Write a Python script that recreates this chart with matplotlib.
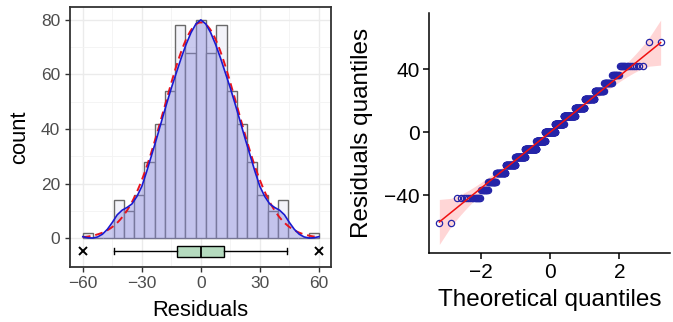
#!/usr/bin/env python3
"""Residual diagnostics: histogram with density + boxplot, and normal QQ plot."""
from statistics import NormalDist

import numpy as np
import matplotlib
matplotlib.use('Agg')
import matplotlib.pyplot as plt

plt.rcParams['font.family'] = ['Liberation Sans', 'DejaVu Sans']

# histogram of residuals (23 equal bins over the data range)
hist_range = (-60, 60)
hist_counts = [2, 0, 0, 14, 10, 16, 28, 42, 54, 78, 68, 80,
               68, 78, 54, 42, 28, 16, 10, 14, 0, 0, 2]

# kernel density of the residuals, scaled to counts
density_x = [-60, -57.5, -55, -52.5, -50, -47.5, -45, -42.5, -40, -37.5,
             -35, -32.5, -30, -27.5, -25, -22.5, -20, -17.5, -15, -12.5,
             -10, -7.5, -5, -2.5, 0, 2.5, 5, 7.5, 10, 12.5, 15, 17.5, 20,
             22.5, 25, 27.5, 30, 32.5, 35, 37.5, 40, 42.5, 45, 47.5, 50,
             52.5, 55, 57.5, 60]
density_y = [0.6, 0.2, 0.1, 0.5, 1.5, 3.3, 5.8, 8.6, 10.3, 11.3,
             12.6, 15.3, 19.0, 24.5, 30.5, 36.5, 42.8, 49.0, 55.0, 60.5,
             66.0, 71.0, 75.3, 78.5, 80.0, 78.5, 75.3, 71.0, 66.0, 60.5,
             55.0, 49.0, 42.8, 36.5, 30.5, 24.5, 19.0, 15.3, 12.6, 11.3,
             10.3, 8.6, 5.8, 3.3, 1.5, 0.5, 0.1, 0.2, 0.6]

# boxplot summary of the residuals
box_q1, box_median, box_q3 = -12, 0, 12
whisker_low, whisker_high = -44, 44
outliers = [-60, 60]

x_ticks = [-60, -30, 0, 30, 60]
y_ticks = [0, 20, 40, 60, 80]
qq_x_ticks = [-2, 0, 2]
qq_y_ticks = [-40, 0, 40]

n_bins = len(hist_counts)
edges = np.linspace(hist_range[0], hist_range[1], n_bins + 1)
centers = (edges[:-1] + edges[1:]) / 2
binw = edges[1] - edges[0]
counts = np.array(hist_counts)
n = counts.sum()
resid = np.repeat(centers, counts)

mean = np.average(centers, weights=counts)
sd = np.sqrt(np.average((centers - mean) ** 2, weights=counts))
iqr = box_q3 - box_q1

xs = np.linspace(hist_range[0], hist_range[1], 400)
norm_curve = n * binw / (sd * np.sqrt(2 * np.pi)) * np.exp(-0.5 * ((xs - mean) / sd) ** 2)

fig = plt.figure(figsize=(6.73, 3.22), dpi=100)

# ---------------- left: histogram ----------------
ax = fig.add_axes([0.104, 0.1717, 0.3874, 0.8056])
ax.set_xlim(-66.5, 66)
ax.set_ylim(-10.4, 84.6)
ax.set_xticks(x_ticks)
ax.set_yticks(y_ticks)
ax.set_xticks([-45, -15, 15, 45], minor=True)
ax.set_yticks([-10, 10, 30, 50, 70], minor=True)
ax.grid(True, which='major', color='#EBEBEB', lw=1.0, zorder=0)
ax.grid(True, which='minor', color='#F3F3F3', lw=0.6, zorder=0)
ax.set_axisbelow(True)

ax.bar(centers, counts, width=binw, color='#F3F3F9', edgecolor='#6A6A6A', lw=1.0, zorder=2)
ax.fill_between(density_x, 0, density_y, color='#8A8ADD', alpha=0.45, lw=0, zorder=3)
ax.plot(density_x, density_y, color='#1A1AD0', lw=1.2, zorder=5)
ax.plot(xs, norm_curve, color='#E8141E', lw=1.4, ls=(0, (4, 2.5)), zorder=4)

stats = [dict(med=box_median, q1=box_q1, q3=box_q3, whislo=whisker_low,
              whishi=whisker_high, fliers=outliers)]
ax.bxp(stats, positions=[-4.7], widths=4.0, vert=False, patch_artist=True,
       manage_ticks=False, zorder=6,
       boxprops=dict(facecolor='#B5DBBF', edgecolor='black', lw=1.0),
       medianprops=dict(color='black', lw=1.3),
       whiskerprops=dict(color='black', lw=1.0),
       capprops=dict(color='black', lw=1.0),
       flierprops=dict(marker='x', markeredgecolor='black', markersize=6, mew=1.4))

for s in ax.spines.values():
    s.set_color('#333333')
    s.set_linewidth(1.3)
ax.tick_params(which='major', length=3.5, width=1, color='#333333',
               labelcolor='#4D4D4D', labelsize=12.5, pad=3.5)
ax.tick_params(which='minor', length=0)
ax.set_xlabel('Residuals', fontsize=15.8, labelpad=6)
ax.set_ylabel('count', fontsize=15.8, labelpad=8)

# ---------------- right: QQ plot ----------------
qx = fig.add_axes([0.6379, 0.2134, 0.3576, 0.7472])
nd = NormalDist()
p = (np.arange(1, n + 1) - 0.5) / n
theo = np.array([nd.inv_cdf(v) for v in p])
sample = np.sort(resid)

slope = iqr / (nd.inv_cdf(0.75) - nd.inv_cdf(0.25))
line = box_median + slope * theo
dens = np.exp(-0.5 * theo ** 2) / np.sqrt(2 * np.pi)
se = slope / dens * np.sqrt(p * (1 - p) / n)
qx.fill_between(theo, line - 1.96 * se, line + 1.96 * se, color='#FF9A9A', alpha=0.4, lw=0, zorder=1)
qx.plot(theo, sample, ls='none', marker='o', mfc='none', mec='#2424A8', ms=4.5, mew=0.9, zorder=2)
qx.plot(theo, line, color='#F01010', lw=1.1, zorder=3)

qx.set_xlim(-3.48, 3.46)
qx.set_ylim(-76.6, 75.7)
qx.set_xticks(qq_x_ticks)
qx.set_yticks(qq_y_ticks)
qx.spines['top'].set_visible(False)
qx.spines['right'].set_visible(False)
for side in ('left', 'bottom'):
    qx.spines[side].set_linewidth(1.1)
    qx.spines[side].set_color('black')
qx.tick_params(length=4, width=1.1, color='black', labelcolor='black', labelsize=15, pad=3)
qx.set_xlabel('Theoretical quantiles', fontsize=17.5, labelpad=5)
qx.set_ylabel('Residuals quantiles', fontsize=17.5, labelpad=8)

fig.savefig('out.png', dpi=100)
